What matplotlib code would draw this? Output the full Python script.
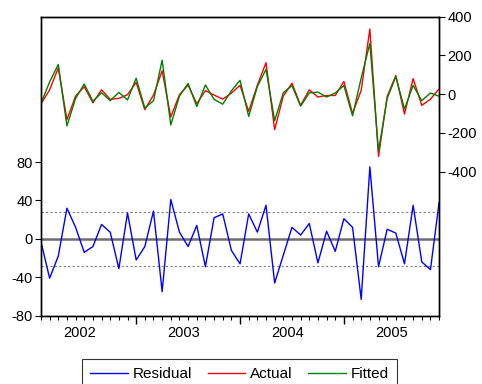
import numpy as np
import matplotlib.pyplot as plt
from matplotlib.lines import Line2D
import matplotlib.transforms as mtransforms

plt.rcParams['font.family'] = ['Liberation Sans', 'DejaVu Sans']
plt.rcParams['axes.unicode_minus'] = False

# monthly observations, Feb 2002 - Dec 2005
start_year, start_month = 2002, 2
years = [2002, 2003, 2004, 2005]

residual = [-3, -41, -18, 32, 12, -14, -8, 15, 7, -31, 27, -22,
            -8, 29, -55, 41, 7, -8, 14, -29, 22, 26, -12, -26,
            26, 7, 35, -46, -17, 12, 4, 16, -25, 8, -13, 21,
            12, -63, 75, -29, 10, 6, -26, 35, -24, -32, 38]
actual = [-51, 22, 135, -132, -10, 38, -45, 22, -27, -22, -3, 60,
          -80, -5, 120, -118, -3, 47, -50, 18, -5, -26, 5, 45,
          -89, 46, 162, -183, -10, 56, -58, 22, -15, -7, -7, 65,
          -100, 20, 336, -322, -12, 96, -103, 80, -58, -26, 27]
fitted = [-48, 63, 153, -164, -22, 52, -37, 7, -34, 9, -30, 82,
          -72, -34, 175, -159, -10, 55, -64, 47, -27, -52, 17, 71,
          -115, 39, 127, -137, 7, 44, -62, 6, 10, -15, 6, 44,
          -112, 83, 261, -293, -22, 90, -77, 45, -34, 6, -11]
se = 28.5

n = len(residual)
x = np.arange(n)
months = [(start_month - 1 + i) % 12 + 1 for i in range(n)]
jan_idx = [i for i in range(n) if months[i] == 1]
first_jan = -(start_month - 1)
label_pos = [first_jan + 12 * k + 5.5 for k in range(len(years))]

fig = plt.figure(figsize=(4.82, 3.84), dpi=100)
ax = fig.add_axes([0.085, 0.178, 0.826, 0.779])
ax2 = ax.twinx()

ax.plot(x, residual, color='#0000ff', lw=1.0, zorder=3)
ax.axhline(0, color='#6e6e6e', lw=1.8, zorder=2)
ax.axhline(se, color='#808080', lw=0.8, ls=(0, (2, 2)), zorder=1)
ax.axhline(-se, color='#808080', lw=0.8, ls=(0, (2, 2)), zorder=1)

ax2.plot(x, actual, color='#ff0000', lw=1.0)
ax2.plot(x, fitted, color='#008000', lw=1.0)

ax.set_xlim(0, n - 1)
ax.set_ylim(-80, 231.7)
ax.set_yticks([-80, -40, 0, 40, 80])
ax2.set_ylim(-1142, 400)
ax2.set_yticks([-400, -200, 0, 200, 400])

ax.set_xticks(jan_idx)
ax.set_xticklabels([])
ax.set_xticks(x, minor=True)
ax.tick_params(axis='x', which='major', direction='out', length=6, width=1)
ax.tick_params(axis='x', which='minor', direction='out', length=3, width=0.8)
ax.tick_params(axis='y', direction='out', length=4, labelsize=10.5, pad=2)
ax2.tick_params(axis='y', direction='out', length=4, labelsize=10.5, pad=2)

trans = mtransforms.blended_transform_factory(ax.transData, ax.transAxes)
for yr, pos in zip(years, label_pos):
    ax.text(pos, -0.035, str(yr), transform=trans, ha='center', va='top', fontsize=10.5)

for a in (ax, ax2):
    for s in a.spines.values():
        s.set_color('black')
        s.set_linewidth(1)

handles = [Line2D([], [], color='#0000ff', lw=1),
           Line2D([], [], color='#ff0000', lw=1),
           Line2D([], [], color='#008000', lw=1)]
leg = fig.legend(handles, ['Residual', 'Actual', 'Fitted'], loc='upper center',
                 bbox_to_anchor=(0.497, 0.0645), ncol=3, fontsize=11,
                 frameon=True, fancybox=False, edgecolor='black',
                 handlelength=2.45, handletextpad=0.35, columnspacing=1.0,
                 borderaxespad=0, borderpad=0.5)
leg.get_frame().set_linewidth(0.8)

fig.savefig('out.png', dpi=100)
